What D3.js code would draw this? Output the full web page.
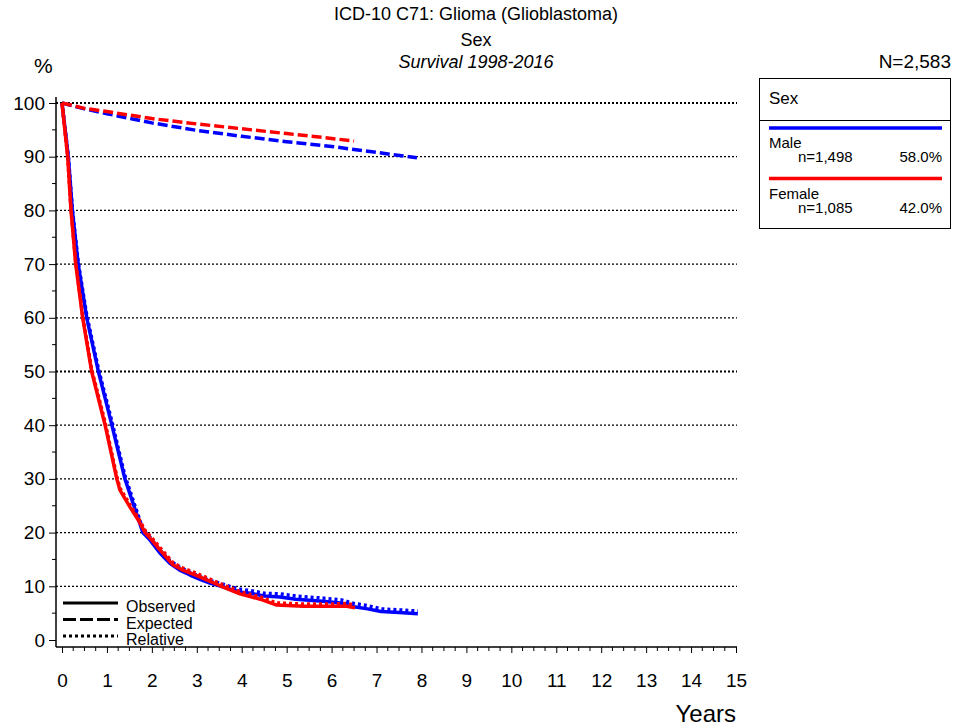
<!DOCTYPE html>
<html>
<head>
<meta charset="utf-8">
<script src="https://cdn.jsdelivr.net/npm/d3@7"></script>
<style>
  body { margin: 0; background: #fff; }
  svg text { font-family: "Liberation Sans", Arial, sans-serif; fill: #000; }
</style>
</head>
<body>
<script>
// chart data
var maleTimes = [0, 0.14, 0.23, 0.36, 0.55, 0.81, 1.0, 1.11, 1.25, 1.40, 1.60, 1.80, 1.96, 2.18, 2.40, 2.62, 2.85, 3.07, 3.29, 3.58, 3.80, 4.00, 4.20, 4.50, 4.85, 5.20, 5.50, 5.80, 6.20, 6.50, 6.80, 7.10, 7.50, 7.92];
var maleObserved = [100, 90, 80, 70, 60, 50, 43.7, 40, 35.2, 30, 25, 20, 18.6, 16.2, 14.3, 13.0, 12.1, 11.3, 10.6, 9.9, 9.3, 8.9, 8.7, 8.2, 8.0, 7.6, 7.4, 7.2, 6.9, 6.2, 5.8, 5.3, 5.1, 4.9];
var maleRelative = [100, 90.2, 80.3, 70.4, 60.5, 50.5, 44.3, 40.7, 35.8, 30.6, 25.6, 20.6, 19.1, 16.7, 14.8, 13.5, 12.6, 11.8, 11.1, 10.4, 9.8, 9.4, 9.2, 8.7, 8.6, 8.2, 8.0, 7.8, 7.5, 6.8, 6.4, 5.8, 5.6, 5.4];

var femaleTimes = [0, 0.127, 0.20, 0.305, 0.46, 0.66, 0.96, 1.22, 1.29, 1.51, 1.70, 1.85, 2.00, 2.18, 2.47, 2.69, 3.00, 3.22, 3.52, 3.96, 4.41, 4.78, 5.37, 6.00, 6.34, 6.52];
var femaleObserved = [100, 90, 80, 70, 60, 50, 40, 30, 27.9, 24.8, 22.3, 20, 18.6, 16.8, 14.0, 13.0, 12.0, 11.2, 10.1, 8.6, 7.6, 6.5, 6.3, 6.3, 6.3, 6.0];
var femaleRelative = [100, 90.1, 80.2, 70.3, 60.4, 50.4, 40.5, 30.4, 28.3, 25.2, 22.7, 20.4, 19.0, 17.2, 14.4, 13.4, 12.4, 11.6, 10.5, 9.0, 8.0, 6.9, 6.7, 6.7, 6.8, 6.5];

var maleExpTimes = [0, 0.5, 1, 2, 3, 4, 5, 6, 7, 7.9];
var maleExpected = [100, 98.9, 98.0, 96.3, 94.9, 93.8, 92.8, 91.9, 90.8, 89.8];
var femaleExpTimes = [0, 0.5, 1, 2, 3, 4, 5, 6, 6.5];
var femaleExpected = [100, 99.0, 98.4, 97.1, 96.1, 95.2, 94.3, 93.4, 92.9];

var groups = ["Male", "Female"];
var groupCounts = ["n=1,498", "n=1,085"];
var groupShares = ["58.0%", "42.0%"];
var groupColors = ["#0000ff", "#ff0000"];

var yTicks = [0, 10, 20, 30, 40, 50, 60, 70, 80, 90, 100];
var xTicks = [0, 1, 2, 3, 4, 5, 6, 7, 8, 9, 10, 11, 12, 13, 14, 15];
var styleNames = ["Observed", "Expected", "Relative"];

//set svg dimensions
var svgWidth = 953;
var svgHeight = 728;

var svg = d3.select("body")
  .append("svg")
  .attr("width", svgWidth)
  .attr("height", svgHeight);

// scales
var xScale = d3.scaleLinear().domain([0, 15]).range([62, 736]);
var yScale = d3.scaleLinear().domain([0, 100]).range([640, 103]);

// titles
svg.append("text").attr("x", 476).attr("y", 20).attr("text-anchor", "middle")
  .style("font-size", "18px").text("ICD-10 C71: Glioma (Glioblastoma)");
svg.append("text").attr("x", 476).attr("y", 46).attr("text-anchor", "middle")
  .style("font-size", "18px").text("Sex");
svg.append("text").attr("x", 476).attr("y", 68).attr("text-anchor", "middle")
  .style("font-size", "18px").style("font-style", "italic").text("Survival 1998-2016");
svg.append("text").attr("x", 34).attr("y", 73)
  .style("font-size", "21px").text("%");
svg.append("text").attr("x", 951).attr("y", 68).attr("text-anchor", "end")
  .style("font-size", "19px").text("N=2,583");

// grid lines
svg.append("g").selectAll("line")
  .data(yTicks.filter(function(d) { return d > 0; }))
  .enter()
  .append("line")
  .attr("x1", 56)
  .attr("x2", 737)
  .attr("y1", function(d) { return yScale(d); })
  .attr("y2", function(d) { return yScale(d); })
  .attr("stroke", "#000")
  .attr("stroke-width", function(d) { return (d == 100 || d == 50) ? 2 : 1.2; })
  .attr("stroke-dasharray", "2,2");

// y axis
var leftAxis = d3.axisLeft(yScale).tickValues(yTicks).tickSize(7).tickSizeOuter(0).tickPadding(4);
var yAxisG = svg.append("g").attr("transform", "translate(56,0)").call(leftAxis);
yAxisG.select(".domain").remove();
yAxisG.selectAll("text").style("font-size", "19px").style("font-family", "Liberation Sans, Arial, sans-serif");
yAxisG.selectAll(".minor")
  .data(d3.range(5, 100, 10))
  .enter()
  .append("line")
  .attr("class", "minor")
  .attr("x1", -4).attr("x2", 0)
  .attr("y1", function(d) { return yScale(d); })
  .attr("y2", function(d) { return yScale(d); })
  .attr("stroke", "#000");
svg.append("line").attr("x1", 56).attr("x2", 56).attr("y1", 97).attr("y2", 647)
  .attr("stroke", "#000").attr("stroke-width", 1.5);

// x axis
var bottomAxis = d3.axisBottom(xScale).tickValues(xTicks).tickSize(6).tickSizeOuter(0).tickPadding(21);
var xAxisG = svg.append("g").attr("transform", "translate(0,647)").call(bottomAxis);
xAxisG.select(".domain").remove();
xAxisG.selectAll("text").style("font-size", "19px").style("font-family", "Liberation Sans, Arial, sans-serif");
xAxisG.selectAll(".minor")
  .data(d3.range(0, 15, 0.25).filter(function(d) { return d % 1 != 0; }))
  .enter()
  .append("line")
  .attr("class", "minor")
  .attr("x1", function(d) { return xScale(d); })
  .attr("x2", function(d) { return xScale(d); })
  .attr("y1", 0).attr("y2", 4)
  .attr("stroke", "#000");
svg.append("line").attr("x1", 56).attr("x2", 737).attr("y1", 647).attr("y2", 647)
  .attr("stroke", "#000").attr("stroke-width", 1.5);

svg.append("text").attr("x", 736).attr("y", 722).attr("text-anchor", "end")
  .style("font-size", "24px").text("Years");

// curves
var line = d3.line()
  .x(function(d) { return xScale(d[0]); })
  .y(function(d) { return yScale(d[1]); });

function pairs(times, vals) {
  return times.map(function(t, i) { return [t, vals[i]]; });
}

var curveSets = [
  { color: groupColors[0], exp: pairs(maleExpTimes, maleExpected), obs: pairs(maleTimes, maleObserved), rel: pairs(maleTimes, maleRelative) },
  { color: groupColors[1], exp: pairs(femaleExpTimes, femaleExpected), obs: pairs(femaleTimes, femaleObserved), rel: pairs(femaleTimes, femaleRelative) }
];

var curveGroup = svg.append("g").attr("fill", "none");
curveSets.forEach(function(c) {
  curveGroup.append("path").attr("d", line(c.exp))
    .attr("stroke", c.color).attr("stroke-width", 3.5).attr("stroke-dasharray", "10,4");
  curveGroup.append("path").attr("d", line(c.rel))
    .attr("stroke", c.color).attr("stroke-width", 3.5).attr("stroke-dasharray", "3,3");
  curveGroup.append("path").attr("d", line(c.obs))
    .attr("stroke", c.color).attr("stroke-width", 3.5).attr("stroke-linejoin", "round");
});

// line style legend (bottom left)
var dashes = [null, "13,4", "3,3"];
styleNames.forEach(function(name, i) {
  var yy = 603 + i * 16.5;
  svg.append("line").attr("x1", 63).attr("x2", 118).attr("y1", yy).attr("y2", yy)
    .attr("stroke", "#000").attr("stroke-width", 3)
    .attr("stroke-dasharray", dashes[i]);
  svg.append("text").attr("x", 126).attr("y", yy + 9).style("font-size", "16px").text(name);
});

// group legend box
var box = svg.append("g");
box.append("rect").attr("x", 759.5).attr("y", 78.5).attr("width", 191).attr("height", 150)
  .attr("fill", "#fff").attr("stroke", "#000").attr("stroke-width", 1);
box.append("line").attr("x1", 759.5).attr("x2", 950.5).attr("y1", 120.5).attr("y2", 120.5)
  .attr("stroke", "#000");
box.append("text").attr("x", 769).attr("y", 104).style("font-size", "17px").text("Sex");
groups.forEach(function(g, i) {
  var top = 128 + i * 50.5;
  box.append("line").attr("x1", 769).attr("x2", 942).attr("y1", top).attr("y2", top)
    .attr("stroke", groupColors[i]).attr("stroke-width", 3.5);
  box.append("text").attr("x", 769).attr("y", top + 20).style("font-size", "15px").text(g);
  box.append("text").attr("x", 798).attr("y", top + 34).style("font-size", "15px").text(groupCounts[i]);
  box.append("text").attr("x", 942).attr("y", top + 34).attr("text-anchor", "end")
    .style("font-size", "15px").text(groupShares[i]);
});
</script>
</body>
</html>
